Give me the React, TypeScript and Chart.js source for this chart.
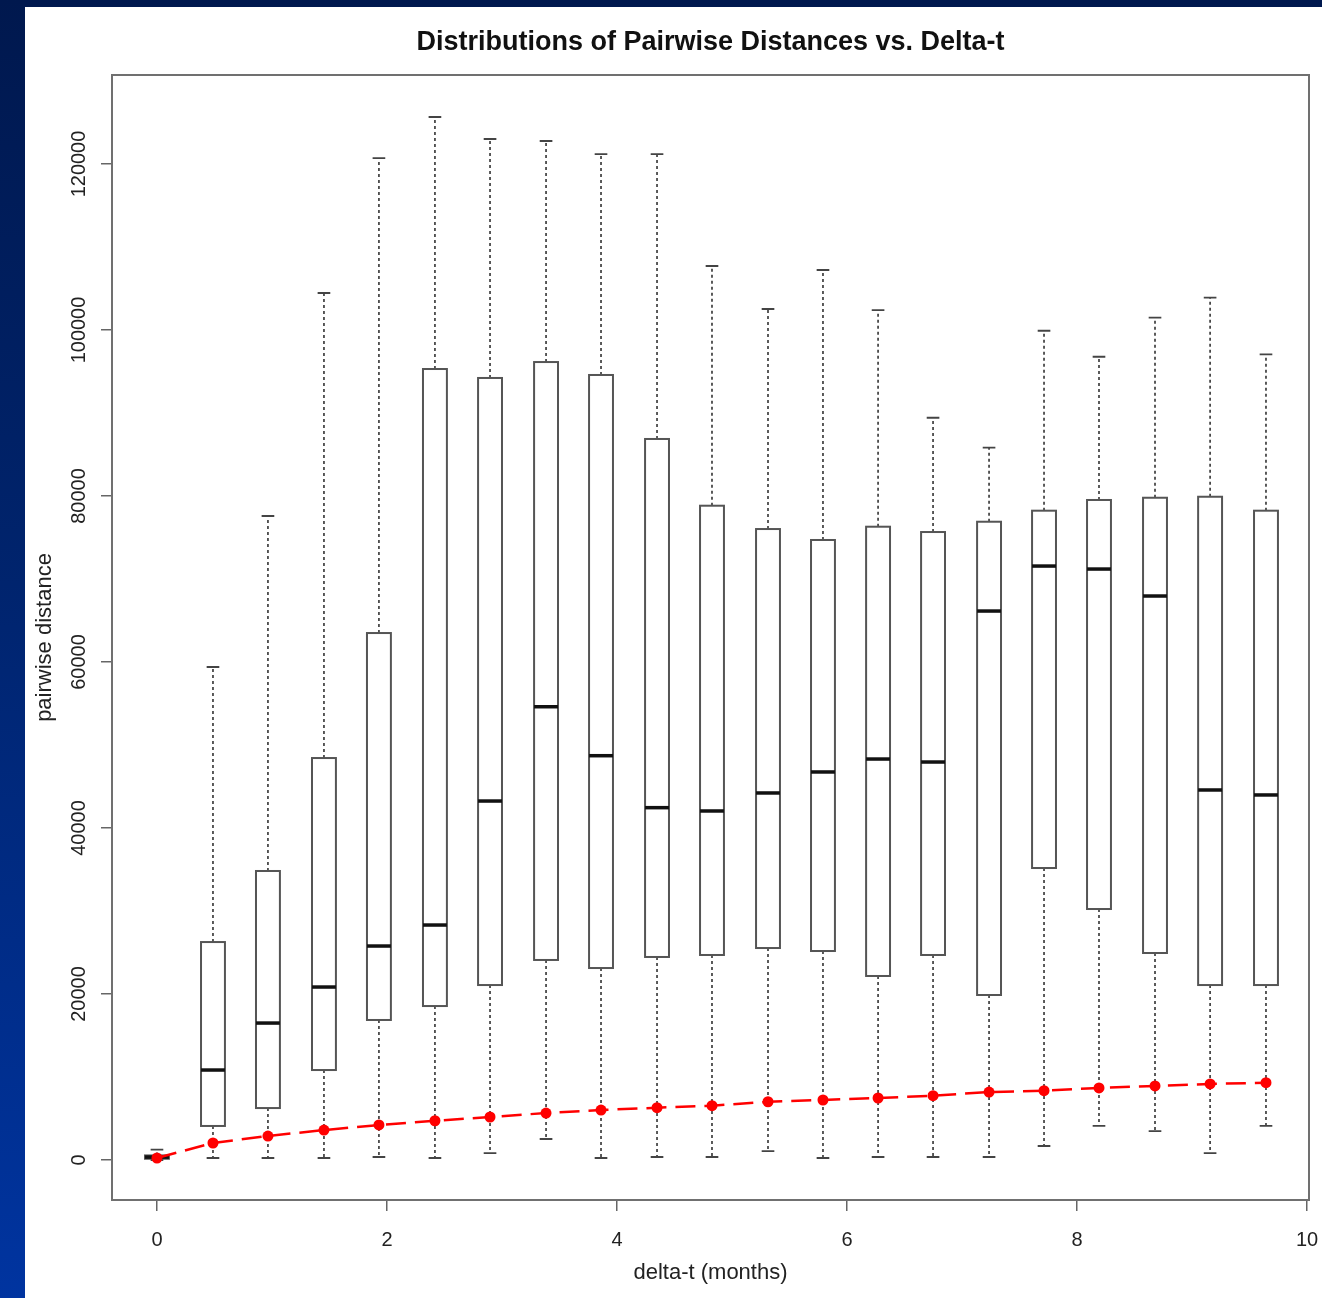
import React, { useEffect, useRef } from 'react';
import { Chart, registerables } from 'chart.js';

Chart.register(...registerables);

// x positions of the boxes (delta-t in months)
const deltaT = [0, 0.487, 0.965, 1.452, 1.93, 2.417, 2.896, 3.383, 3.861, 4.348, 4.826, 5.313, 5.791, 6.27, 6.748, 7.235, 7.713, 8.191, 8.678, 9.157, 9.643];
const whiskerLow = [0, 240, 240, 240, 360, 240, 840, 2530, 240, 360, 360, 1080, 240, 360, 360, 360, 1690, 4100, 3490, 840, 4100];
const q1 = [150, 4100, 6260, 10840, 16870, 18550, 21080, 24100, 23130, 24460, 24700, 25540, 25180, 22170, 24700, 19880, 35180, 30240, 24940, 21080, 21080];
const median = [350, 10840, 16500, 20840, 25780, 28310, 43250, 54610, 48710, 42450, 42050, 44220, 46750, 48310, 47950, 66140, 71560, 71200, 67950, 44580, 43980];
const q3 = [550, 26260, 34820, 48430, 63490, 95300, 94220, 96140, 94580, 86870, 78830, 76020, 74700, 76300, 75660, 76900, 78230, 79520, 79790, 79910, 78230];
const whiskerHigh = [1250, 59400, 77590, 104460, 120720, 125660, 123010, 122770, 121200, 121200, 107710, 102530, 107230, 102400, 89430, 85820, 99910, 96780, 101480, 103890, 97070];
// red series
const redValues = [240, 2050, 2890, 3610, 4220, 4730, 5180, 5660, 6020, 6300, 6540, 7020, 7230, 7470, 7750, 8190, 8350, 8680, 8920, 9160, 9310];

const xTickValues = [0, 2, 4, 6, 8, 10];
const yTickValues = [0, 20000, 40000, 60000, 80000, 100000, 120000];

const TITLE = 'Distributions of Pairwise Distances vs. Delta-t';
const X_TITLE = 'delta-t (months)';
const Y_TITLE = 'pairwise distance';

const BOX_HALF = 0.104;
const CAP_HALF = 0.055;
const FONT = '"Liberation Sans", Arial, sans-serif';

const boxPlugin = {
  id: 'boxplots',
  beforeDatasetsDraw(chart: any) {
    const { ctx, scales, chartArea } = chart;
    const x = scales.x;
    const y = scales.y;
    ctx.save();
    ctx.beginPath();
    ctx.rect(chartArea.left, chartArea.top, chartArea.right - chartArea.left, chartArea.bottom - chartArea.top);
    ctx.clip();
    deltaT.forEach((t, i) => {
      const cx = x.getPixelForValue(t);
      const hw = x.getPixelForValue(t + BOX_HALF) - cx;
      const cw = x.getPixelForValue(t + CAP_HALF) - cx;
      const yLo = y.getPixelForValue(whiskerLow[i]);
      const yQ1 = y.getPixelForValue(q1[i]);
      const yMed = y.getPixelForValue(median[i]);
      const yQ3 = y.getPixelForValue(q3[i]);
      const yHi = y.getPixelForValue(whiskerHigh[i]);
      // whiskers
      ctx.strokeStyle = '#333';
      ctx.lineWidth = 1.6;
      ctx.setLineDash([3, 3]);
      ctx.beginPath();
      ctx.moveTo(cx, yQ3);
      ctx.lineTo(cx, yHi);
      ctx.moveTo(cx, yQ1);
      ctx.lineTo(cx, yLo);
      ctx.stroke();
      ctx.setLineDash([]);
      // caps
      ctx.strokeStyle = '#444';
      ctx.lineWidth = 1.8;
      ctx.beginPath();
      ctx.moveTo(cx - cw, yHi);
      ctx.lineTo(cx + cw, yHi);
      ctx.moveTo(cx - cw, yLo);
      ctx.lineTo(cx + cw, yLo);
      ctx.stroke();
      // box
      ctx.fillStyle = '#ffffff';
      ctx.fillRect(cx - hw, yQ3, hw * 2, yQ1 - yQ3);
      ctx.strokeStyle = '#555';
      ctx.lineWidth = 2;
      ctx.strokeRect(cx - hw, yQ3, hw * 2, yQ1 - yQ3);
      // median
      ctx.strokeStyle = '#111';
      ctx.lineWidth = 3.5;
      ctx.beginPath();
      ctx.moveTo(cx - hw, yMed);
      ctx.lineTo(cx + hw, yMed);
      ctx.stroke();
    });
    ctx.restore();
  },
  afterDraw(chart: any) {
    const { ctx, chartArea } = chart;
    ctx.save();
    ctx.strokeStyle = '#707070';
    ctx.lineWidth = 2;
    ctx.strokeRect(chartArea.left, chartArea.top, chartArea.right - chartArea.left, chartArea.bottom - chartArea.top);
    ctx.restore();
  },
};

function zeroPadding(scale: any) {
  scale.paddingLeft = 0;
  scale.paddingRight = 0;
  scale.paddingTop = 0;
  scale.paddingBottom = 0;
}

export default function App() {
  const ref = useRef<HTMLCanvasElement | null>(null);

  useEffect(() => {
    if (!ref.current) return;
    const chart = new Chart(ref.current, {
      type: 'line',
      data: {
        datasets: [
          {
            label: 'red',
            data: deltaT.map((t, i) => ({ x: t, y: redValues[i] })),
            borderColor: '#ff0000',
            backgroundColor: '#ff0000',
            borderWidth: 2.5,
            borderDash: [20, 9],
            pointRadius: 5.5,
            pointBorderWidth: 0,
            pointBackgroundColor: '#ff0000',
            tension: 0,
            fill: false,
          },
        ],
      },
      options: {
        responsive: false,
        animation: false,
        events: [],
        layout: { padding: { top: 0, left: 0, right: 13, bottom: 0 } },
        plugins: {
          legend: { display: false },
          tooltip: { enabled: false },
          title: {
            display: true,
            text: TITLE,
            fullSize: false,
            color: '#111',
            font: { family: FONT, size: 27, weight: 'bold', lineHeight: 1.2 },
            padding: { top: 19.8, bottom: 15.8 },
          },
        },
        scales: {
          x: {
            type: 'linear',
            min: -0.391,
            max: 10.017,
            afterBuildTicks: (s: any) => {
              s.ticks = xTickValues.map((v) => ({ value: v }));
            },
            afterFit: (s: any) => {
              s.height = 98;
              zeroPadding(s);
            },
            ticks: {
              autoSkip: false,
              maxRotation: 0,
              minRotation: 0,
              padding: 17,
              color: '#222',
              font: { family: FONT, size: 20 },
              callback: (v: any) => String(v),
            },
            grid: { drawOnChartArea: false, drawTicks: true, tickLength: 11, color: '#666', lineWidth: 1.5 },
            border: { display: true, color: '#707070', width: 2 },
            title: {
              display: true,
              text: X_TITLE,
              color: '#222',
              font: { family: FONT, size: 22, lineHeight: 1.2 },
              padding: { top: 0, bottom: 11.8 },
            },
          },
          y: {
            type: 'linear',
            min: -4819,
            max: 130723,
            afterBuildTicks: (s: any) => {
              s.ticks = yTickValues.map((v) => ({ value: v }));
            },
            afterFit: (s: any) => {
              s.width = 87;
              zeroPadding(s);
            },
            ticks: {
              autoSkip: false,
              minRotation: 90,
              maxRotation: 90,
              crossAlign: 'center',
              padding: -12,
              color: '#222',
              font: { family: FONT, size: 20 },
              callback: (v: any) => String(v),
            },
            grid: { drawOnChartArea: false, drawTicks: true, tickLength: 11, color: '#666', lineWidth: 1.5 },
            border: { display: true, color: '#707070', width: 2 },
            title: {
              display: true,
              text: Y_TITLE,
              color: '#222',
              font: { family: FONT, size: 22, lineHeight: 1.2 },
              padding: { top: 6.8, bottom: 0 },
            },
          },
        },
      },
      plugins: [boxPlugin],
    } as any);
    return () => chart.destroy();
  }, []);

  return (
    <div
      style={{
        position: 'fixed',
        left: 0,
        top: 0,
        width: 1322,
        height: 1298,
        background: 'linear-gradient(to bottom, #00184e 0%, #00246e 45%, #0034a0 100%)',
        overflow: 'hidden',
      }}
    >
      <div style={{ position: 'absolute', left: 25, top: 7, width: 1297, height: 1291, background: '#ffffff' }}>
        <canvas ref={ref} width={1297} height={1291} style={{ display: 'block' }} />
      </div>
    </div>
  );
}
